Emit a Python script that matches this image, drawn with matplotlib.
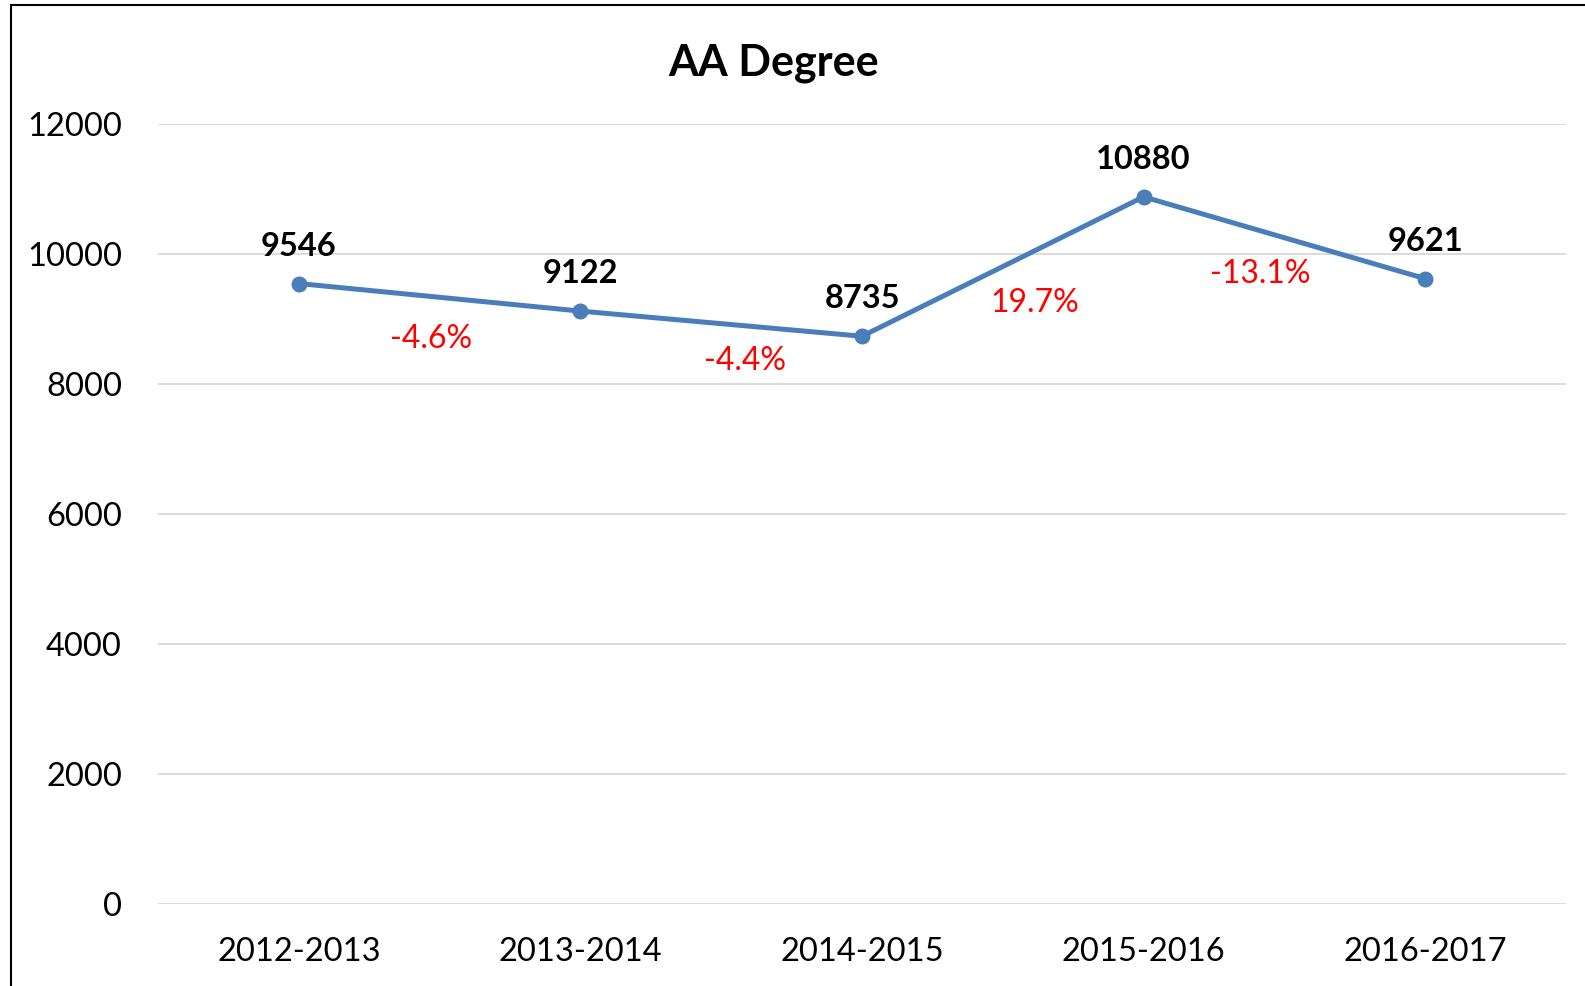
import matplotlib
matplotlib.use("Agg")
import matplotlib.pyplot as plt
from matplotlib.lines import Line2D

plt.rcParams["font.family"] = ["Lato", "DejaVu Sans"]

# Data
years = ["2012-2013", "2013-2014", "2014-2015", "2015-2016", "2016-2017"]
degrees = [9546, 9122, 8735, 10880, 9621]
pct_labels = ["-4.6%", "-4.4%", "19.7%", "-13.1%"]
y_ticks = [0, 2000, 4000, 6000, 8000, 10000, 12000]

# where the red change labels sit (x shift from segment midpoint, y in data units)
pct_dx = [-0.03, 0.085, 0.114, -0.087]
pct_y = [8700, 8360, 9240, 9690]

fig = plt.figure(figsize=(15.85, 9.86), dpi=100)
ax = fig.add_axes([0.0997, 0.0832, 0.8883, 0.791])

x = list(range(len(years)))
ax.plot(x, degrees, color="#4A7EBB", lw=3.6, marker="o", markersize=10.5,
        solid_capstyle="round", zorder=3)

for xi, v in zip(x, degrees):
    ax.annotate(str(v), (xi, v), xytext=(0, 27), textcoords="offset points",
                ha="center", va="center", fontsize=23.5, fontweight="bold",
                color="black")

for i, lab in enumerate(pct_labels):
    ax.text(i + 0.5 + pct_dx[i], pct_y[i], lab, ha="center", va="center",
            fontsize=23, color="#FF0000")

ax.set_xlim(-0.5, len(years) - 0.5)
ax.set_ylim(0, 12000)
ax.set_xticks(x)
ax.set_xticklabels(years, fontsize=23.5)
ax.set_yticks(y_ticks)
ax.set_yticklabels([str(t) for t in y_ticks], fontsize=23.5)
ax.tick_params(axis="both", length=0)
ax.tick_params(axis="y", pad=26)
ax.tick_params(axis="x", pad=24)
ax.grid(axis="y", color="#D9D9D9", lw=1.3)
ax.set_axisbelow(True)
for s in ax.spines.values():
    s.set_visible(False)

fig.text(0.488, 0.936, "AA Degree", ha="center", va="center",
         fontsize=31, fontweight="bold")

# outer chart border (left and top edges visible)
fig.add_artist(Line2D([0.0072, 0.0072], [0, 0.995], transform=fig.transFigure,
                      color="black", lw=1.5))
fig.add_artist(Line2D([0.0072, 1.0], [0.995, 0.995], transform=fig.transFigure,
                      color="black", lw=1.5))

fig.savefig("out.png", dpi=100)
